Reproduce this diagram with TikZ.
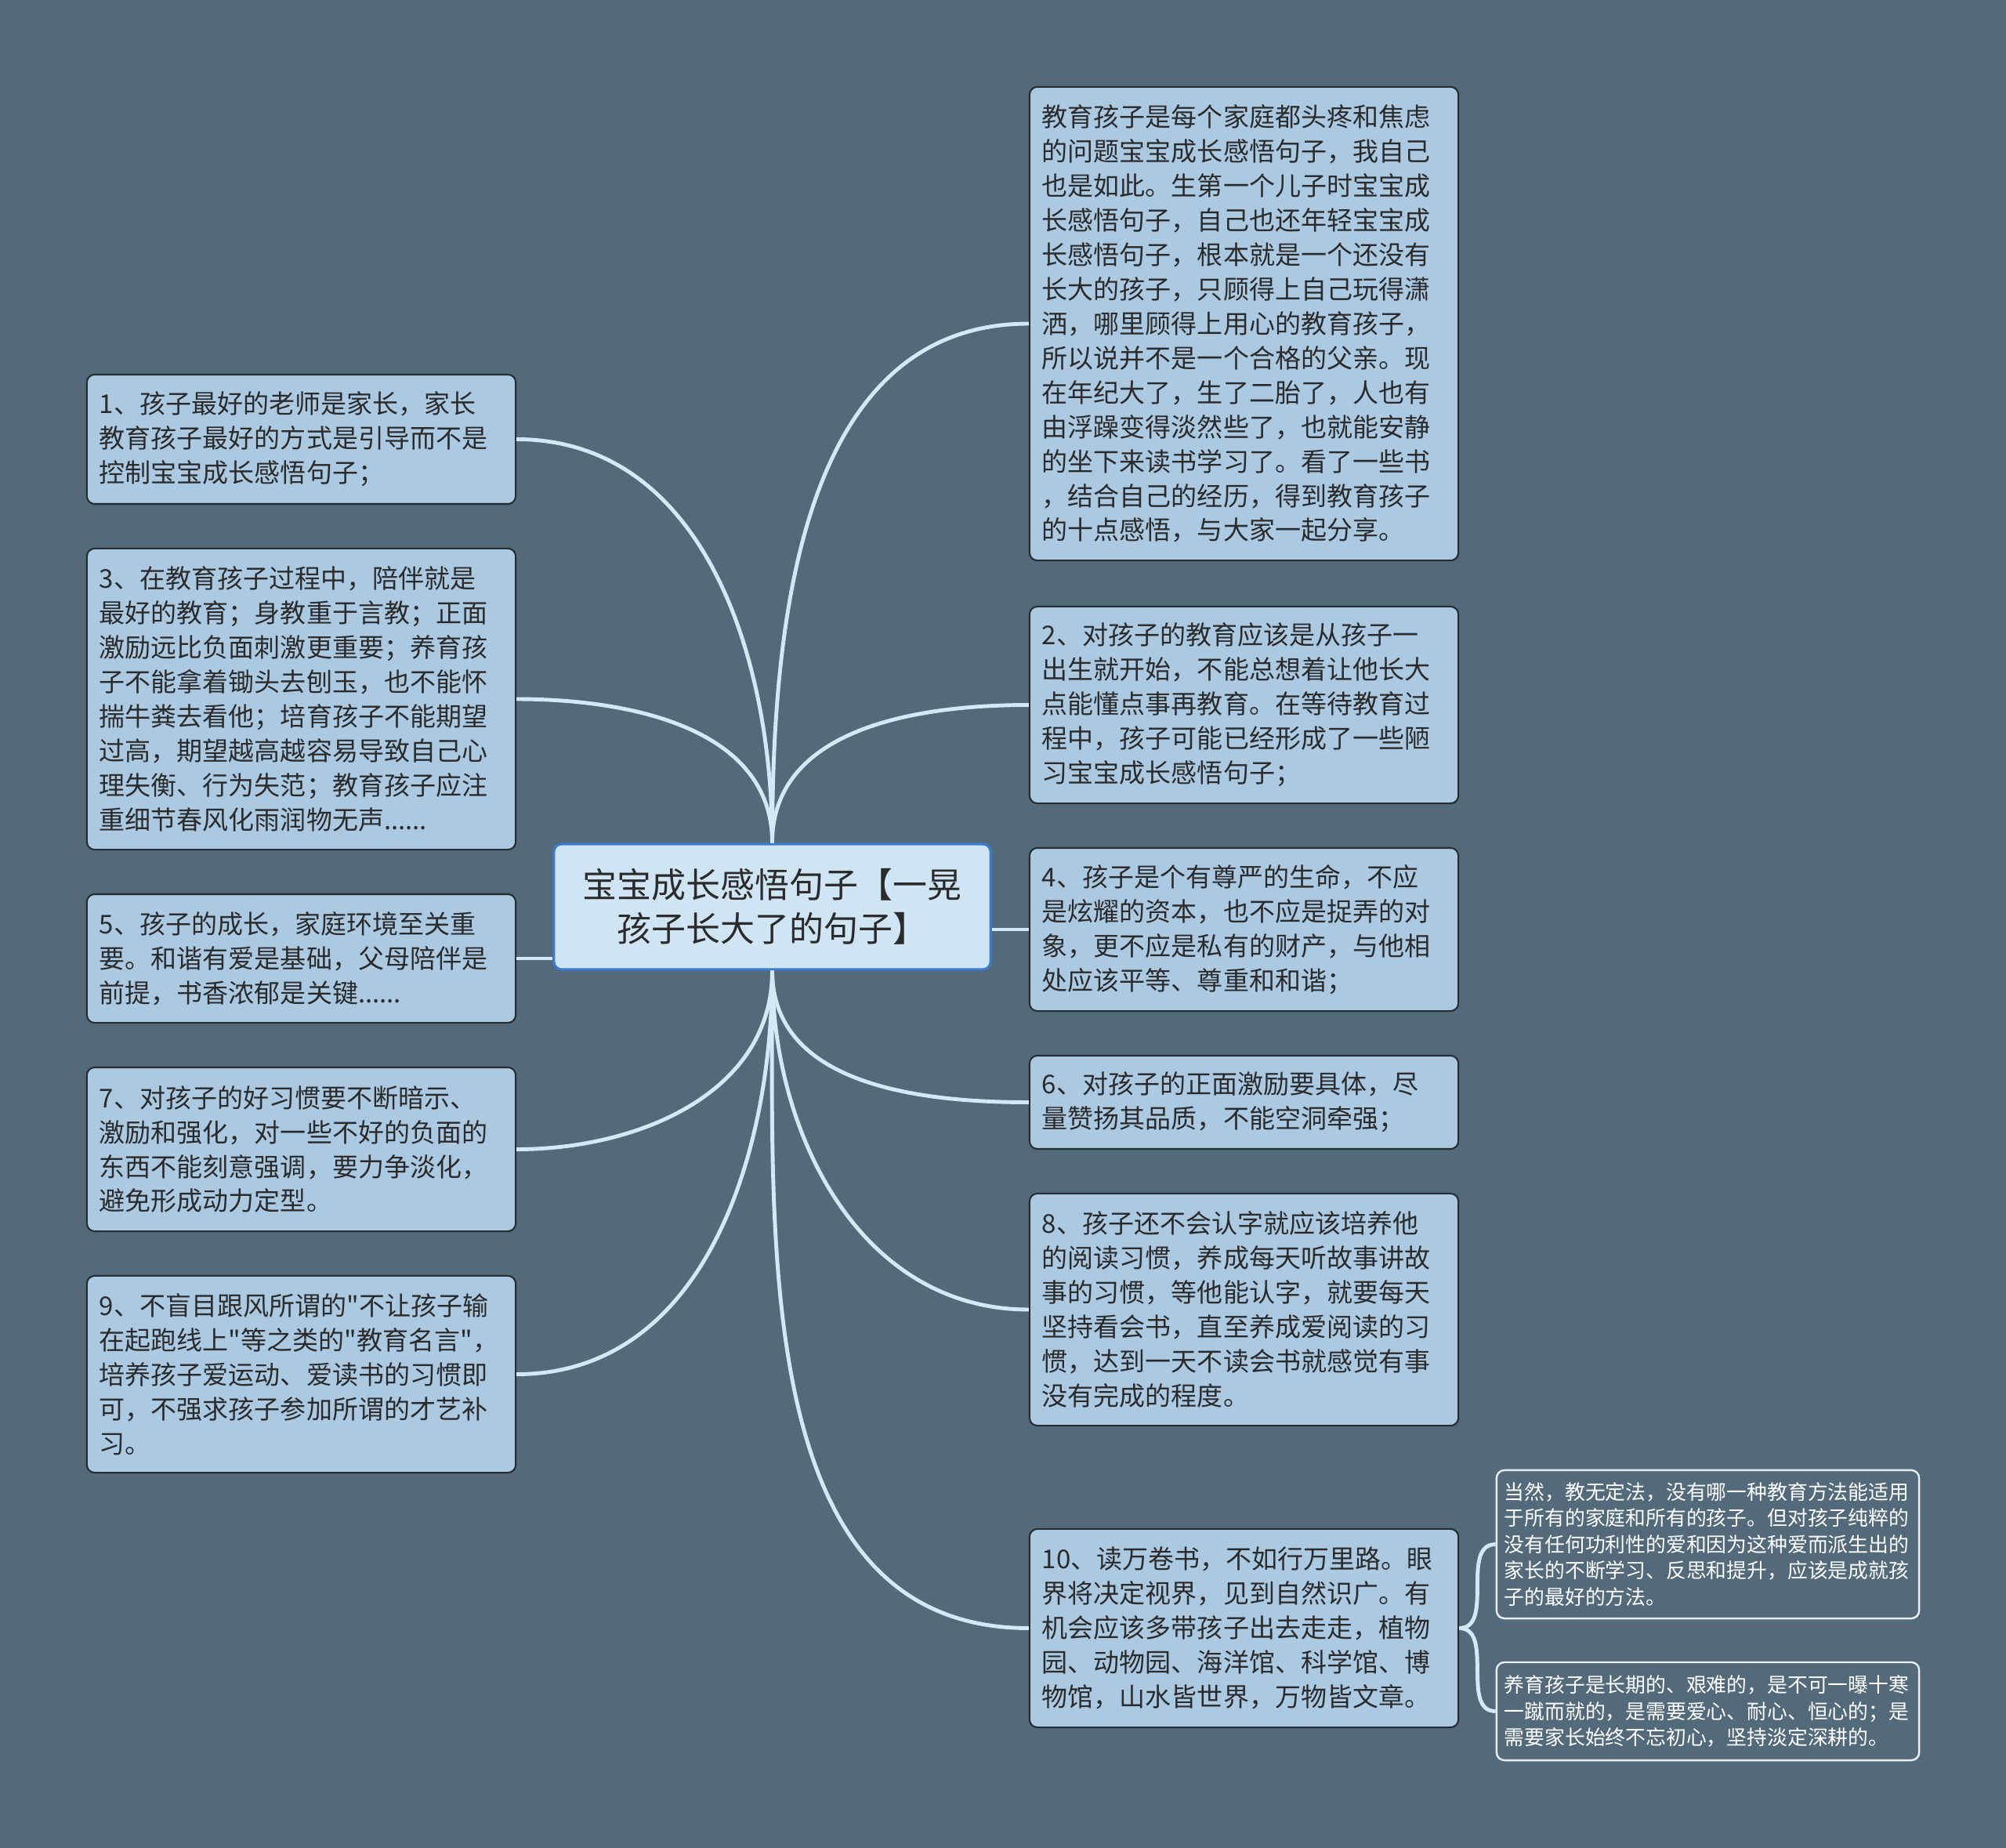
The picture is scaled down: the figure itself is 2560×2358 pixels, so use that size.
\documentclass[tikz,border=0pt]{standalone}
\usepackage{fontspec}
\setmainfont{Noto Sans CJK SC}
\newfontfamily\plainquote{Noto Sans CJK SC}
\usetikzlibrary{positioning}

\definecolor{bgslate}{HTML}{536A7A}
\definecolor{cardfill}{HTML}{ABCAE2}
\definecolor{cardline}{HTML}{262C31}
\definecolor{rootfill}{HTML}{CFE5F3}
\definecolor{rootline}{HTML}{3C7CD0}
\definecolor{linkcol}{HTML}{D2E9F6}
\definecolor{inkdark}{HTML}{2B2B2B}
\definecolor{noteline}{HTML}{E6EEF3}

\newcommand{\dq}{{\plainquote"}}

\tikzset{
  card/.style={draw=cardline, fill=cardfill, line width=0.6pt, rounded corners=0.1cm,
    text=inkdark, align=left, inner xsep=0.16cm, inner ysep=2pt, text width=5.15cm,
    font=\fontsize{9.39pt}{12.5pt}\selectfont},
  rootbox/.style={draw=rootline, fill=rootfill, line width=0.9pt, rounded corners=0.1cm,
    text=inkdark, align=center, minimum width=5.57cm, minimum height=1.6cm,
    font=\fontsize{12.5pt}{15.8pt}\selectfont},
  note/.style={draw=noteline, line width=0.7pt, rounded corners=0.1cm,
    text=white, align=left, inner xsep=0.1cm, inner ysep=2pt, text width=5.19cm,
    font=\fontsize{7.34pt}{9.53pt}\selectfont},
  branch/.style={draw=linkcol, line width=1.4pt}
}

\begin{document}
\begin{tikzpicture}[x=0.01cm,y=-0.01cm]
\fill[bgslate] (0,0) rectangle (2560,2358);
% centre topic
\node[rootbox] (root) at (985.5,1157) {宝宝成长感悟句子【一晃\\孩子长大了的句子】};
% right column
\node[card, minimum height=6.04cm] (intro) at (1587.5,413) {教育孩子是每个家庭都头疼和焦虑\\的问题宝宝成长感悟句子，我自己\\也是如此。生第一个儿子时宝宝成\\长感悟句子，自己也还年轻宝宝成\\长感悟句子，根本就是一个还没有\\长大的孩子，只顾得上自己玩得潇\\洒，哪里顾得上用心的教育孩子，\\所以说并不是一个合格的父亲。现\\在年纪大了，生了二胎了，人也有\\由浮躁变得淡然些了，也就能安静\\的坐下来读书学习了。看了一些书\\，结合自己的经历，得到教育孩子\\的十点感悟，与大家一起分享。};
\node[card, minimum height=2.51cm] (p2) at (1587.5,899.5) {2、对孩子的教育应该是从孩子一\\出生就开始，不能总想着让他长大\\点能懂点事再教育。在等待教育过\\程中，孩子可能已经形成了一些陋\\习宝宝成长感悟句子；};
\node[card, minimum height=2.08cm] (p4) at (1587.5,1186) {4、孩子是个有尊严的生命，不应\\是炫耀的资本，也不应是捉弄的对\\象，更不应是私有的财产，与他相\\处应该平等、尊重和和谐；};
\node[card, minimum height=1.19cm] (p6) at (1587.5,1406.5) {6、对孩子的正面激励要具体，尽\\量赞扬其品质，不能空洞牵强；};
\node[card, minimum height=2.96cm] (p8) at (1587.5,1671) {8、孩子还不会认字就应该培养他\\的阅读习惯，养成每天听故事讲故\\事的习惯，等他能认字，就要每天\\坚持看会书，直至养成爱阅读的习\\惯，达到一天不读会书就感觉有事\\没有完成的程度。};
\node[card, minimum height=2.53cm] (p10) at (1587.5,2077.5) {10、读万卷书，不如行万里路。眼\\界将决定视界，见到自然识广。有\\机会应该多带孩子出去走走，植物\\园、动物园、海洋馆、科学馆、博\\物馆，山水皆世界，万物皆文章。};
% left column
\node[card, minimum height=1.65cm] (p1) at (384.5,560.5) {1、孩子最好的老师是家长，家长\\教育孩子最好的方式是引导而不是\\控制宝宝成长感悟句子；};
\node[card, minimum height=3.84cm] (p3) at (384.5,892) {3、在教育孩子过程中，陪伴就是\\最好的教育；身教重于言教；正面\\激励远比负面刺激更重要；养育孩\\子不能拿着锄头去刨玉，也不能怀\\揣牛粪去看他；培育孩子不能期望\\过高，期望越高越容易导致自己心\\理失衡、行为失范；教育孩子应注\\重细节春风化雨润物无声......};
\node[card, minimum height=1.64cm] (p5) at (384.5,1223) {5、孩子的成长，家庭环境至关重\\要。和谐有爱是基础，父母陪伴是\\前提，书香浓郁是关键......};
\node[card, minimum height=2.09cm] (p7) at (384.5,1466.5) {7、对孩子的好习惯要不断暗示、\\激励和强化，对一些不好的负面的\\东西不能刻意强调，要力争淡化，\\避免形成动力定型。};
\node[card, minimum height=2.51cm] (p9) at (384.5,1753.5) {9、不盲目跟风所谓的\dq 不让孩子输\\在起跑线上\dq 等之类的\dq 教育名言\dq ，\\培养孩子爱运动、爱读书的习惯即\\可，不强求孩子参加所谓的才艺补\\习。};
% notes under item 10
\node[note, minimum height=1.89cm] (n1) at (2179.5,1970.5) {当然，教无定法，没有哪一种教育方法能适用\\于所有的家庭和所有的孩子。但对孩子纯粹的\\没有任何功利性的爱和因为这种爱而派生出的\\家长的不断学习、反思和提升，应该是成就孩\\子的最好的方法。};
\node[note, minimum height=1.25cm] (n2) at (2179.5,2183.5) {养育孩子是长期的、艰难的，是不可一曝十寒\\一蹴而就的，是需要爱心、耐心、恒心的；是\\需要家长始终不忘初心，坚持淡定深耕的。};
% branches
\foreach \nn in {intro,p2}
  {\draw[branch] (root.north) to[out=90,in=180] (\nn.west);}
\foreach \nn in {p1,p3}
  {\draw[branch] (root.north) to[out=90,in=0] (\nn.east);}
\foreach \nn in {p6,p8,p10}
  {\draw[branch] (root.south) to[out=-90,in=180] (\nn.west);}
\foreach \nn in {p7,p9}
  {\draw[branch] (root.south) to[out=-90,in=0] (\nn.east);}
\draw[branch] (root.east |- p4.west) -- (p4.west);
\draw[branch] (root.west |- p5.east) -- (p5.east);
\foreach \nn in {n1,n2}
  {\draw[branch] (p10.east) to[out=0,in=180] (\nn.west);}
\end{tikzpicture}
\end{document}
